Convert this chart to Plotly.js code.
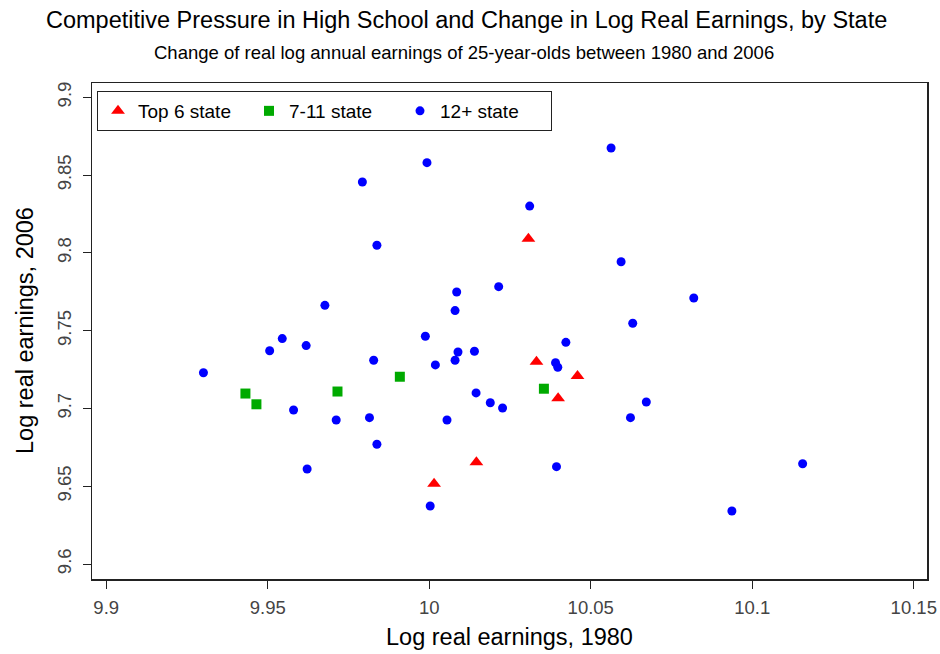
<!DOCTYPE html>
<html>
<head>
<meta charset="utf-8">
<script src="https://cdn.plot.ly/plotly-3.0.1.min.js"></script>
<style>html,body{margin:0;padding:0;background:#fff;}#chart{width:940px;height:654px;}</style>
</head>
<body>
<div id="chart"></div>
<script>
// Top 6 states
const top6X = [10.0307, 10.0332, 10.0459, 10.0399, 10.0146, 10.0015];
const top6Y = [9.8091, 9.7301, 9.7209, 9.7066, 9.6654, 9.6517];
// 7-11 states
const midX = [9.9431, 9.9465, 9.9716, 9.9909, 10.0355];
const midY = [9.7096, 9.7027, 9.7109, 9.7204, 9.7127];
// 12+ states
const restX = [9.9993, 9.9793, 9.9838, 10.0215, 10.0085, 10.0080, 9.9677, 9.9545, 9.9506, 9.9619,
               9.9301, 9.9828, 9.9988, 10.0019, 10.0080, 10.0089, 10.0140, 10.0145, 10.0189, 10.0227,
               10.0055, 9.9580, 9.9712, 9.9815, 9.9838, 9.9622, 10.0003, 10.0563, 10.0311, 10.0594,
               10.0819, 10.0630, 10.0423, 10.0391, 10.0398, 10.0672, 10.0623, 10.0394, 10.1156, 10.0937];
const restY = [9.8580, 9.8456, 9.8049, 9.7783, 9.7749, 9.7629, 9.7663, 9.7449, 9.7371, 9.7404,
               9.7230, 9.7310, 9.7464, 9.7280, 9.7310, 9.7363, 9.7368, 9.7100, 9.7037, 9.7003,
               9.6926, 9.6990, 9.6926, 9.6941, 9.6770, 9.6611, 9.6373, 9.8674, 9.8301, 9.7943,
               9.7710, 9.7548, 9.7425, 9.7294, 9.7265, 9.7042, 9.6941, 9.6626, 9.6645, 9.6341];

const xTicks = [9.9, 9.95, 10, 10.05, 10.1, 10.15];
const xTickText = ['9.9', '9.95', '10', '10.05', '10.1', '10.15'];
const yTicks = [9.6, 9.65, 9.7, 9.75, 9.8, 9.85, 9.9];
const yTickText = ['9.6', '9.65', '9.7', '9.75', '9.8', '9.85', '9.9'];

const FONT = 'Liberation Sans, Arial, sans-serif';

const traces = [
  {x: top6X, y: top6Y, type: 'scatter', mode: 'markers', name: 'Top 6 state',
   marker: {symbol: 'triangle-up', size: 12, color: '#FF0000'}},
  {x: midX, y: midY, type: 'scatter', mode: 'markers', name: '7-11 state',
   marker: {symbol: 'square', size: 10, color: '#00AA00'}},
  {x: restX, y: restY, type: 'scatter', mode: 'markers', name: '12+ state',
   marker: {symbol: 'circle', size: 9, color: '#0000FF'}}
];

const layout = {
  width: 940, height: 654,
  margin: {l: 92, r: 13, t: 83, b: 75},
  paper_bgcolor: '#fff', plot_bgcolor: '#fff',
  font: {family: FONT, color: '#000'},
  showlegend: true,
  legend: {
    orientation: 'h', x: (97 - 92) / 835, y: (579 - 91) / 496, xanchor: 'left', yanchor: 'top',
    bordercolor: '#222', borderwidth: 1, bgcolor: '#fff',
    font: {family: FONT, size: 19, color: '#000'},
    entrywidth: 106, entrywidthmode: 'pixels', traceorder: 'normal'
  },
  xaxis: {
    range: [9.8956, 10.1541], tickvals: xTicks, ticktext: xTickText,
    showgrid: false, zeroline: false, showline: true, linecolor: '#222', linewidth: 1.5, mirror: true,
    ticks: 'outside', ticklen: 8, tickcolor: '#222', tickwidth: 1, ticklabelstandoff: 3,
    tickfont: {family: FONT, size: 18.5, color: '#444'}
  },
  yaxis: {
    range: [9.5904, 9.9092], tickvals: yTicks, ticktext: yTickText,
    showgrid: false, zeroline: false, showline: true, linecolor: '#222', linewidth: 1.5, mirror: true,
    ticks: 'outside', ticklen: 8, tickcolor: '#222', tickwidth: 1, tickangle: -90, ticklabelstandoff: 4,
    tickfont: {family: FONT, size: 18.5, color: '#444'}
  },
  annotations: [
    {text: 'Competitive Pressure in High School and Change in Log Real Earnings, by State',
     xref: 'paper', yref: 'paper', x: (466.5 - 92) / 835, y: (579 - 20) / 496, xanchor: 'center', yanchor: 'middle',
     showarrow: false, font: {family: FONT, size: 23.5, color: '#000'}},
    {text: 'Change of real log annual earnings of 25-year-olds between 1980 and 2006',
     xref: 'paper', yref: 'paper', x: (464 - 92) / 835, y: (579 - 52) / 496, xanchor: 'center', yanchor: 'middle',
     showarrow: false, font: {family: FONT, size: 18.5, color: '#000'}},
    {text: 'Log real earnings, 1980',
     xref: 'paper', yref: 'paper', x: 0.5, y: (579 - 637) / 496, xanchor: 'center', yanchor: 'middle',
     showarrow: false, font: {family: FONT, size: 23.5, color: '#000'}},
    {text: 'Log real earnings, 2006',
     xref: 'paper', yref: 'paper', x: (25 - 92) / 835, y: 0.5, xanchor: 'center', yanchor: 'middle',
     showarrow: false, textangle: -90, font: {family: FONT, size: 23.5, color: '#000'}}
  ]
};

Plotly.newPlot('chart', traces, layout, {displayModeBar: false, staticPlot: true});
</script>
</body>
</html>
